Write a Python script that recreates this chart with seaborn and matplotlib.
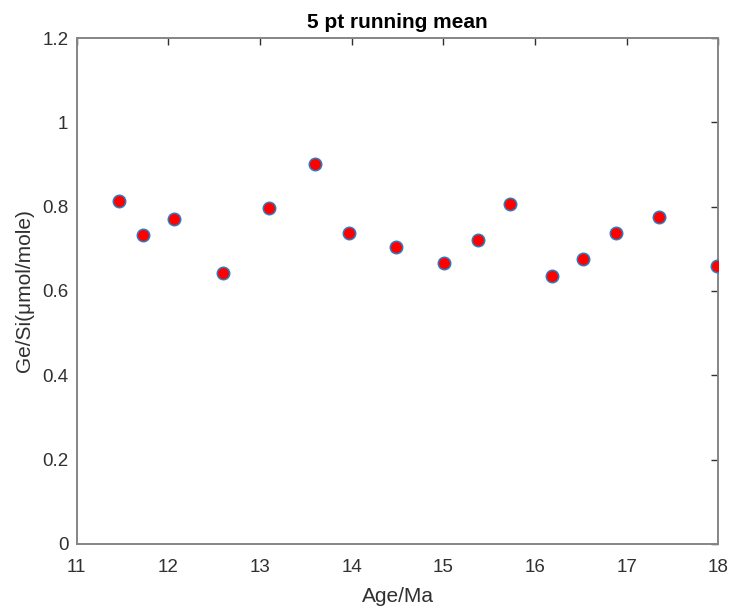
import matplotlib
matplotlib.use("Agg")
import matplotlib.pyplot as plt
import seaborn as sns
import pandas as pd

age = [11.46, 11.72, 12.06, 12.60, 13.10, 13.60, 13.97, 14.48, 15.01, 15.38,
       15.73, 16.18, 16.52, 16.88, 17.35, 17.99]
gesi = [0.813, 0.733, 0.771, 0.642, 0.796, 0.901, 0.737, 0.705, 0.666, 0.722,
        0.807, 0.635, 0.677, 0.737, 0.775, 0.660]

df = pd.DataFrame({"Age/Ma": age, "GeSi": gesi})

sns.set_theme(style="white")
plt.rcParams['font.family'] = ['Liberation Sans', 'DejaVu Sans']

fig = plt.figure(figsize=(7.33, 6.13), dpi=100)
ax = fig.add_axes([0.1046, 0.1126, 0.8754, 0.8254])

sns.scatterplot(data=df, x="Age/Ma", y="GeSi", ax=ax, s=80,
                color="#ff0000", edgecolor="#2f7bbf", linewidth=1.1, zorder=3)

ax.set_xlim(11, 18)
ax.set_ylim(0, 1.2)
ax.set_xticks(range(11, 19))
ax.set_yticks([0, 0.2, 0.4, 0.6, 0.8, 1.0, 1.2])
ax.set_yticklabels(["0", "0.2", "0.4", "0.6", "0.8", "1", "1.2"])

gray = "#303030"
for sp in ax.spines.values():
    sp.set_color("#858585")
    sp.set_linewidth(1.4)
ax.tick_params(direction="in", length=5, width=1, colors=gray, labelsize=13.5,
               top=True, right=True, labelcolor=gray)
ax.tick_params(axis="x", pad=11)
ax.tick_params(axis="y", pad=6)
ax.set_xlabel("Age/Ma", fontsize=15, color=gray, labelpad=8)
ax.set_ylabel("Ge/Si(μmol/mole)", fontsize=15, color=gray, labelpad=6)
ax.set_title("5 pt running mean", fontsize=15, fontweight="bold", color="black", pad=7)

fig.savefig("out.png", dpi=100)
